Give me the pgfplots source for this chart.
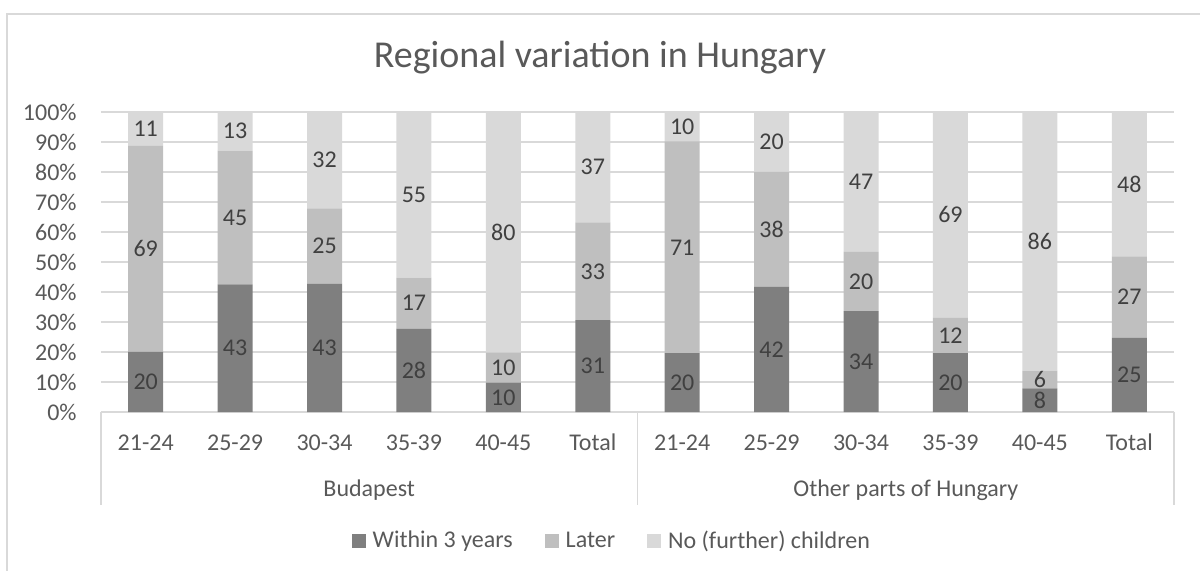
\documentclass[border=0pt]{standalone}
\usepackage{fontspec}
\setmainfont{Carlito}
\usepackage{pgfplots}
\pgfplotsset{compat=1.18}
\usepackage{pgfplotstable}

\definecolor{cW}{HTML}{7F7F7F}
\definecolor{cL}{HTML}{BFBFBF}
\definecolor{cN}{HTML}{D9D9D9}
\definecolor{txt}{HTML}{595959}
\definecolor{lbl}{HTML}{404040}
\definecolor{gridc}{HTML}{D9D9D9}

\pgfplotstableread{
x w l n
0 20.0 68.7 11.3
1 42.55 44.6 12.85
2 42.8 25.1 32.1
3 27.8 17.0 55.2
4 9.8 10.0 80.2
5 30.6 32.6 36.8
6 19.6 70.6 9.8
7 41.8 38.2 20.0
8 33.6 19.8 46.6
9 19.6 11.8 68.6
10 7.9 5.9 86.2
11 24.7 27.2 48.1
}\data

\newcommand{\lblfont}{\fontsize{12}{14}\selectfont}

\begin{document}
\begin{tikzpicture}
\path[use as bounding box] (0,0) rectangle (600pt,-285.5pt);
\draw[gridc, line width=0.75pt] (3.5pt,-285.5pt) -- (3.5pt,-7pt) -- (600pt,-7pt);
\node[text=txt, font=\fontsize{19}{22}\selectfont] at (300pt,-29pt) {Regional variation in Hungary};
\begin{axis}[
  at={(50.5pt,-206pt)}, anchor=south west, scale only axis,
  width=536.5pt, height=150pt,
  ybar stacked, bar width=17.5pt,
  xmin=-0.5, xmax=11.5, ymin=0, ymax=100,
  xtick={0,...,11},
  xticklabels={21-24,25-29,30-34,35-39,40-45,Total,21-24,25-29,30-34,35-39,40-45,Total},
  ytick={0,10,...,100},
  yticklabels={0\%,10\%,20\%,30\%,40\%,50\%,60\%,70\%,80\%,90\%,100\%},
  axis line style={draw=none},
  major tick length=0pt,
  ymajorgrids, major grid style={gridc, line width=0.75pt},
  tick label style={font=\lblfont, text=txt},
  xticklabel style={anchor=base, yshift=-19.5pt},
  yticklabel style={anchor=east, inner sep=0pt, xshift=-12pt},
  /pgf/number format/assume math mode=true,
  clip=false,
  legend style={at={(0.477,-0.43)}, anchor=center, draw=none, fill=none,
    legend columns=3, font=\lblfont, text=txt,
    /tikz/every even column/.append style={column sep=14pt},
    /tikz/every odd column/.append style={column sep=1.5pt},
    nodes={inner sep=2pt}},
  legend image code/.code={\fill[#1] (0pt,-3.5pt) rectangle (7pt,3.5pt);},
  nodes near coords={\pgfmathprintnumber[fixed,precision=0]{\seg}},
  every node near coord/.append style={font=\lblfont, text=lbl, anchor=center},
]
\addplot[fill=cW, draw=none, visualization depends on={\thisrow{w} \as \seg}] table[x=x, y=w] {\data};
\addplot[fill=cL, draw=none, visualization depends on={\thisrow{l} \as \seg}] table[x=x, y=l] {\data};
\addplot[fill=cN, draw=none, visualization depends on={\thisrow{n} \as \seg}] table[x=x, y=n] {\data};
\legend{Within 3 years, Later, No (further) children}
\end{axis}
\draw[gridc, line width=0.75pt] (50.5pt,-206pt) -- (50.5pt,-252.5pt);
\draw[gridc, line width=0.75pt] (318.75pt,-206pt) -- (318.75pt,-252.5pt);
\draw[gridc, line width=0.75pt] (587pt,-206pt) -- (587pt,-252.5pt);
\node[text=txt, font=\lblfont, anchor=base] at (184.6pt,-248.5pt) {Budapest};
\node[text=txt, font=\lblfont, anchor=base] at (452.9pt,-248.5pt) {Other parts of Hungary};
\end{tikzpicture}
\end{document}
